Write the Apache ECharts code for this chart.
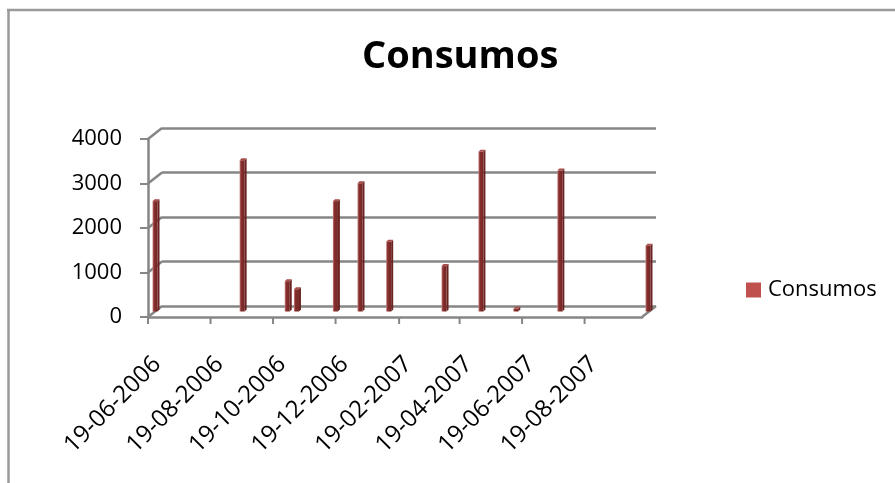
<!DOCTYPE html>
<html>
<head>
<meta charset="utf-8">
<script src="https://cdn.jsdelivr.net/npm/echarts@6/dist/echarts.min.js"></script>
<style>
  html, body { margin: 0; padding: 0; background: #fff; }
  #chart { width: 895px; height: 483px; }
</style>
</head>
<body>
<div id="chart"></div>
<script>
// Meter readings: date (DD-MM-YYYY) and consumption
const readingDates = ['19-06-2006', '12-09-2006', '26-10-2006', '04-11-2006', '12-12-2006', '05-01-2007',
                      '02-02-2007', '28-03-2007', '03-05-2007', '06-06-2007', '19-07-2007', '13-10-2007'];
const consumos = [2480, 3400, 680, 500, 2480, 2880, 1570, 1020, 3590, 60, 3170, 1480];

// Axis ticks
const yTicks = [0, 1000, 2000, 3000, 4000];
const xTickLabels = ['19-06-2006', '19-08-2006', '19-10-2006', '19-12-2006',
                     '19-02-2007', '19-04-2007', '19-06-2007', '19-08-2007'];
const axisStart = '19-06-2006';
const axisEnd = '13-10-2007';

// One category per day so the bars sit on a date scale
function parseDay(s) { const [d, m, y] = s.split('-').map(Number); return Date.UTC(y, m - 1, d); }
function formatDay(t) {
  const dt = new Date(t);
  const p = n => String(n).padStart(2, '0');
  return p(dt.getUTCDate()) + '-' + p(dt.getUTCMonth() + 1) + '-' + dt.getUTCFullYear();
}
const days = [];
for (let t = parseDay(axisStart); t <= parseDay(axisEnd); t += 86400000) days.push(formatDay(t));

// Layout of the pseudo-3D box: front plane, mid plane (bars) and back wall
const FRONT = { left: 148, top: 139, width: 494, height: 178 };
const DEPTH = [14, -11];
const shiftGrid = (g, f) => ({ left: g.left + DEPTH[0] * f, top: g.top + DEPTH[1] * f, width: g.width, height: g.height });
const MID = shiftGrid(FRONT, 0.5);
const BACK = shiftGrid(FRONT, 1);

const FONT = "'Open Sans', 'Liberation Sans', sans-serif";
const AXIS_GRAY = '#868686';
const showTick = (idx, val) => xTickLabels.indexOf(val) >= 0;

const hiddenCat = () => ({
  type: 'category', data: days, boundaryGap: true,
  axisLine: { show: false }, axisTick: { show: false }, axisLabel: { show: false }, splitLine: { show: false }
});
const hiddenVal = (withGrid) => ({
  type: 'value', min: 0, max: 4000, interval: 1000,
  axisLine: { show: false }, axisTick: { show: false }, axisLabel: { show: false },
  splitLine: { show: withGrid, lineStyle: { color: AXIS_GRAY, width: 2.5 } }
});

const chart = echarts.init(document.getElementById('chart'), null, { renderer: 'canvas' });

chart.setOption({
  animation: false,
  backgroundColor: '#fff',
  title: {
    text: 'Consumos', left: 357, top: 33,
    textStyle: { fontFamily: FONT, fontSize: 38, fontWeight: 'bold', color: '#000' }
  },
  legend: {
    data: [{ name: 'Consumos', icon: 'rect', itemStyle: { color: '#c0504d' } }],
    left: 746, top: 279, padding: 0, itemWidth: 15, itemHeight: 15, selectedMode: false,
    textStyle: { fontFamily: FONT, fontSize: 22, color: '#000', padding: [0, 0, 0, 2] }
  },
  graphic: [
    { type: 'line', shape: { x1: 8.5, y1: 9, x2: 8.5, y2: 483 }, style: { stroke: '#9a9a9a', lineWidth: 2.5 }, silent: true },
    { type: 'line', shape: { x1: 7, y1: 10, x2: 895, y2: 10 }, style: { stroke: '#9a9a9a', lineWidth: 2.5 }, silent: true }
  ],
  grid: [
    Object.assign({ containLabel: false }, FRONT),
    Object.assign({ containLabel: false }, MID),
    Object.assign({ containLabel: false }, BACK)
  ],
  xAxis: [
    {
      type: 'category', data: days, boundaryGap: true, gridIndex: 0,
      axisLine: { show: true, lineStyle: { color: AXIS_GRAY, width: 2.5 } },
      axisTick: { show: false },
      axisLabel: {
        interval: showTick, rotate: 45, align: 'right', verticalAlign: 'top', lineHeight: 24, margin: 35,
        fontFamily: FONT, fontSize: 24, color: '#000'
      },
      splitLine: { show: false }
    },
    Object.assign(hiddenCat(), { gridIndex: 1 }),
    Object.assign(hiddenCat(), { gridIndex: 2 })
  ],
  yAxis: [
    {
      type: 'value', min: 0, max: 4000, interval: 1000, gridIndex: 0,
      axisLine: { show: true, lineStyle: { color: AXIS_GRAY, width: 2.5 } },
      axisTick: { show: true, length: 8, lineStyle: { color: AXIS_GRAY, width: 2 } },
      axisLabel: { margin: 26, fontFamily: FONT, fontSize: 22, color: '#000', formatter: v => String(v) },
      splitLine: { show: false }
    },
    Object.assign(hiddenVal(false), { gridIndex: 1 }),
    Object.assign(hiddenVal(true), { gridIndex: 2 })
  ],
  series: [
    {
      // side wall and floor edges joining the front axes to the back wall
      name: 'walls', type: 'custom', xAxisIndex: 0, yAxisIndex: 0, silent: true, clip: false, z: 1,
      data: yTicks.map(v => [days[0], v]),
      renderItem: function (params, api) {
        const cs = params.coordSys;
        const y = api.coord([api.value(0), api.value(1)])[1];
        const style = { stroke: AXIS_GRAY, lineWidth: 2.5 };
        const children = [{ type: 'line', shape: { x1: cs.x, y1: y, x2: cs.x + DEPTH[0], y2: y + DEPTH[1] }, style }];
        if (api.value(1) === 0) {
          const xr = cs.x + cs.width;
          children.push({ type: 'line', shape: { x1: xr, y1: y, x2: xr + DEPTH[0], y2: y + DEPTH[1] }, style });
        }
        return { type: 'group', children };
      }
    },
    {
      // date ticks at the start of each labelled day
      name: 'dateTicks', type: 'custom', xAxisIndex: 0, yAxisIndex: 0, silent: true, clip: false, z: 1,
      data: xTickLabels.map(l => [l, 0]),
      renderItem: function (params, api) {
        const p = api.coord([api.value(0), 0]);
        const x = p[0] - api.size([1, 0])[0] / 2;
        return { type: 'line', shape: { x1: x, y1: p[1], x2: x, y2: p[1] + 7 },
                 style: { stroke: AXIS_GRAY, lineWidth: 2 } };
      }
    },
    {
      name: 'Consumos', type: 'custom', xAxisIndex: 1, yAxisIndex: 1, z: 3, clip: false,
      data: readingDates.map((d, i) => [d, consumos[i]]),
      renderItem: function (params, api) {
        const b = api.coord([api.value(0), 0]);
        const t = api.coord([api.value(0), api.value(1)]);
        const w = 5, d = 2, x0 = b[0] - 3;
        const face = new echarts.graphic.LinearGradient(0, 0, 1, 0, [
          { offset: 0, color: '#c98684' }, { offset: 0.3, color: '#862f2e' }, { offset: 1, color: '#752625' }
        ]);
        return {
          type: 'group',
          children: [
            { type: 'rect', shape: { x: x0, y: t[1], width: w, height: b[1] - t[1] }, style: { fill: face } },
            { type: 'polygon', shape: { points: [[x0 + w, t[1]], [x0 + w + d, t[1] - d], [x0 + w + d, b[1] - d], [x0 + w, b[1]]] },
              style: { fill: '#6b2322' } },
            { type: 'polygon', shape: { points: [[x0, t[1]], [x0 + w, t[1]], [x0 + w + d, t[1] - d], [x0 + d, t[1] - d]] },
              style: { fill: '#a84c4a' } }
          ]
        };
      }
    }
  ]
});
</script>
</body>
</html>
